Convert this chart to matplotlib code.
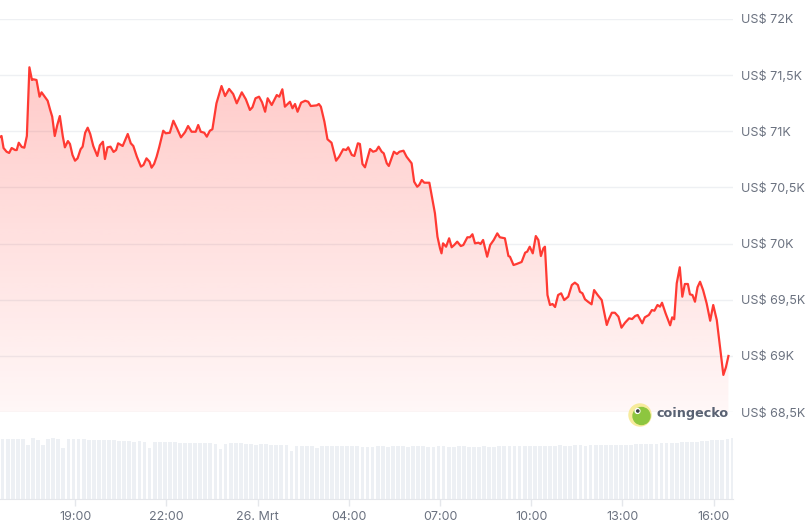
import numpy as np
import pandas as pd
import matplotlib
matplotlib.use("Agg")
import matplotlib.pyplot as plt
from matplotlib.colors import to_rgb
from matplotlib.patches import Circle
from matplotlib.ticker import FuncFormatter

# data: BTC price, 24h window, minutes from start
start_time = pd.Timestamp("2024-03-25 16:32")

minutes = [
    0, 3, 7, 13, 18, 23, 30, 33, 37, 43, 48, 53, 58, 63, 66, 72, 78, 82, 89, 94,
    99, 103, 108, 113, 118, 124, 128, 134, 138, 143, 148, 153, 159, 163, 168, 173, 178, 184, 192, 197,
    203, 207, 212, 218, 224, 229, 233, 242, 247, 252, 258, 263, 270, 278, 283, 289, 295, 299, 304, 309,
    314, 322, 327, 335, 342, 349, 357, 365,
    371, 378, 386, 391, 396, 403, 408, 414, 419, 427, 437, 444, 452, 460, 467, 477, 485, 493, 498, 504,
    511, 517, 523, 528, 536, 546, 551, 557, 562, 572, 577, 582, 587, 594, 602, 608, 613, 625, 629, 633,
    640, 646, 654, 663, 669, 677, 683, 687, 694, 699, 706, 710, 715, 720, 730,
    736, 742, 747, 753, 757, 763, 767, 773, 777, 783, 788, 796, 802, 812, 817, 823, 827, 832, 837, 847,
    852, 858, 863, 868, 871, 874, 880, 886, 891, 896, 902, 909, 914, 922, 927, 932, 937, 944, 948, 953,
    961, 967, 974, 981, 986, 996, 1003, 1006, 1013, 1019, 1029, 1036, 1040, 1045, 1051, 1057, 1062, 1067, 1072, 1075,
    1080, 1085, 1090, 1095,
    1101, 1107, 1113, 1121, 1128, 1134, 1140, 1144, 1149, 1154, 1160, 1167, 1172, 1179, 1187, 1192, 1197, 1201, 1207, 1213,
    1220, 1226, 1233, 1241, 1247, 1253, 1258, 1267, 1272, 1280, 1286, 1291, 1297, 1302, 1306, 1313, 1322, 1326, 1330, 1335,
    1341, 1346, 1351, 1357, 1361, 1366, 1371, 1376, 1381, 1387, 1394, 1401, 1407, 1414, 1420, 1427, 1432, 1437,
]

prices = [
    70949, 70958, 70851, 70818, 70807, 70851, 70833, 70833, 70898, 70860, 70854, 70958, 71570, 71457, 71463, 71457, 71308, 71347, 71303, 71272,
    71190, 71130, 70958, 71056, 71136, 70952, 70857, 70913, 70887, 70789, 70738, 70759, 70840, 70863, 70987, 71032, 70976, 70869, 70780, 70875,
    70907, 70753, 70857, 70863, 70816, 70833, 70893, 70869, 70922, 70976, 70893, 70869, 70774, 70685, 70700, 70759, 70729, 70676, 70709, 70774,
    70857, 71005, 70982, 70987, 71094, 71027, 70946, 70992,
    71047, 70996, 70996, 71056, 70996, 70987, 70952, 71005, 71018, 71249, 71403, 71314, 71377, 71332, 71249, 71347, 71285, 71190, 71214, 71294,
    71308, 71258, 71174, 71294, 71234, 71323, 71308, 71374, 71219, 71263, 71205, 71243, 71174, 71255, 71272, 71263, 71225, 71231, 71243, 71219,
    71085, 70929, 70898, 70738, 70774, 70840, 70833, 70857, 70789, 70780, 70893, 70887, 70709, 70679, 70842,
    70818, 70827, 70863, 70818, 70804, 70715, 70691, 70768, 70818, 70798, 70818, 70827, 70774, 70715, 70551, 70506, 70522, 70566, 70542, 70542,
    70417, 70270, 70061, 69958, 69913, 70002, 69972, 70047, 69967, 69987, 70017, 69978, 69987, 70056, 70056, 70083, 70002, 70008, 69996, 70032,
    69883, 69987, 70032, 70091, 70056, 70047, 69889, 69883, 69809, 69818, 69836, 69919, 69928, 69972, 69913, 70067, 70032, 69889, 69958, 69972,
    69542, 69453, 69462, 69435,
    69542, 69557, 69497, 69527, 69631, 69652, 69631, 69571, 69557, 69504, 69482, 69459, 69586, 69542, 69497, 69384, 69275, 69326, 69384, 69384,
    69349, 69251, 69295, 69334, 69328, 69355, 69364, 69290, 69343, 69364, 69408, 69402, 69453, 69438, 69473, 69379, 69272, 69343, 69326, 69646,
    69789, 69527, 69640, 69640, 69548, 69542, 69482, 69611, 69660, 69586, 69468, 69313, 69453, 69319, 69097, 68830, 68898, 68999,
]

# 24h volume, one bar per 10 minutes (billions USD)
volumes = [
    35.8, 36.0, 36.1, 35.9, 35.8, 32.6, 36.4, 35.7, 32.5, 36.2,
    36.5, 36.0, 30.6, 35.8, 36.1, 35.9, 35.8, 35.6, 35.3, 35.6,
    35.2, 35.5, 35.3, 35.0, 34.9, 34.6, 34.3, 34.6, 34.4, 30.4,
    34.2, 34.5, 34.5, 34.0, 34.1, 33.8, 33.6, 33.9, 33.8, 33.8,
    33.6, 33.4, 33.2, 30.2, 33.3, 33.6, 33.4, 33.4, 33.2, 33.0,
    32.7, 32.8, 32.8, 32.5, 32.6, 32.4, 32.6, 29.0, 32.0, 32.0,
    31.9, 32.0, 30.8, 31.9, 32.0, 31.7, 31.9, 31.8, 31.7, 31.9,
    31.6, 31.4, 31.2, 31.5,
    31.6, 31.8, 31.5, 31.7, 31.9, 31.6, 31.4, 31.7, 31.8, 31.6,
    31.5, 31.3, 31.6, 31.7, 31.5, 31.4, 31.6, 31.8, 31.5, 31.3,
    31.5, 31.6, 31.4, 31.5, 31.7, 31.6,
    31.8, 31.9, 31.7, 32.0, 31.9, 31.8, 32.0, 32.1, 31.9, 32.0,
    32.2, 32.1, 32.0, 32.3, 32.2, 32.1, 32.3, 32.4, 32.2, 32.4,
    32.4, 32.5, 32.6, 32.5, 32.7, 32.8, 32.9, 33.0, 32.9, 33.2,
    33.4, 33.5, 33.6, 33.8, 34.0, 34.2, 34.3, 34.5, 34.7, 35.0,
    35.2, 35.4, 35.7, 36.0, 36.4, 36.9,
]
volume_step = 10  # minutes per bar

tick_times = ["2024-03-25 19:00", "2024-03-25 22:00", "2024-03-26 01:00", "2024-03-26 04:00",
              "2024-03-26 07:00", "2024-03-26 10:00", "2024-03-26 13:00", "2024-03-26 16:00"]
tick_labels = ["19:00", "22:00", "26. Mrt", "04:00", "07:00", "10:00", "13:00", "16:00"]
price_ticks = [68500, 69000, 69500, 70000, 70500, 71000, 71500, 72000]

line_color = "#ff3a33"
grid_color = "#eef0f3"
text_color = "#6b7280"

W, H = 809, 529
fig = plt.figure(figsize=(W / 100, H / 100), dpi=100)
plt.rcParams["font.family"] = ["Inter", "DejaVu Sans"]

t = np.array(minutes, dtype=float)
p = np.array(prices, dtype=float)
x_max = 1446
tick_pos = [(pd.Timestamp(s) - start_time).total_seconds() / 60 for s in tick_times]

# price panel
ax = fig.add_axes([0, 1 - 412 / H, 733 / W, (412 - 19) / H])
ax.set_xlim(0, x_max)
ax.set_ylim(68500, 72000)
for v in price_ticks:
    ax.axhline(v, color=grid_color, lw=1, zorder=0)

fill = ax.fill_between(t, p, 68500, color="none", lw=0)
grad = np.zeros((256, 1, 4))
grad[..., :3] = to_rgb(line_color)
grad[..., 3] = np.linspace(0.30, 0.04, 256)[:, None]
im = ax.imshow(grad, aspect="auto", extent=[0, x_max, 68500, 72000],
               origin="upper", zorder=1, interpolation="bilinear")
im.set_clip_path(fill.get_paths()[0], transform=ax.transData)
ax.plot(t, p, color=line_color, lw=1.6, zorder=3, solid_joinstyle="round")

ax.yaxis.tick_right()
ax.set_yticks(price_ticks)
ax.yaxis.set_major_formatter(FuncFormatter(
    lambda v, pos: "US$ " + f"{v / 1000:g}".replace(".", ",") + "K"))
ax.tick_params(axis="y", length=0, pad=6, labelsize=9, labelcolor=text_color)
ax.set_xticks([])
for s in ax.spines.values():
    s.set_visible(False)

# volume panel
axv = fig.add_axes([0, 1 - 499 / H, 733 / W, (499 - 437) / H])
vt = volume_step / 2 + volume_step * np.arange(len(volumes))
axv.bar(vt, volumes, width=volume_step * 0.75, color="#edf0f4", lw=0)
axv.set_xlim(0, x_max)
axv.set_ylim(0, 37.2)
axv.set_yticks([])
axv.set_xticks(tick_pos)
axv.set_xticklabels(tick_labels)
axv.tick_params(axis="x", length=5, width=1, color="#e5e7eb", pad=4,
                labelsize=9, labelcolor=text_color)
for k in ["top", "left", "right"]:
    axv.spines[k].set_visible(False)
axv.spines["bottom"].set_color("#e5e7eb")

# coingecko watermark
axl = fig.add_axes([0, 0, 1, 1])
axl.set_xlim(0, W)
axl.set_ylim(H, 0)
axl.axis("off")
axl.add_patch(Circle((640, 415), 11, color="#f7eb9c", zorder=2))
axl.add_patch(Circle((641.5, 416), 8.5, color="#8dc63f", zorder=3))
axl.add_patch(Circle((637.5, 411), 2.4, color="white", zorder=4))
axl.add_patch(Circle((637.8, 411), 1.1, color="#3b3f46", zorder=5))
axl.text(657, 414, "coingecko", fontsize=9.2, fontweight="bold", color="#596273",
         ha="left", va="center", family=["DejaVu Sans"])

fig.savefig("out.png", dpi=100)
